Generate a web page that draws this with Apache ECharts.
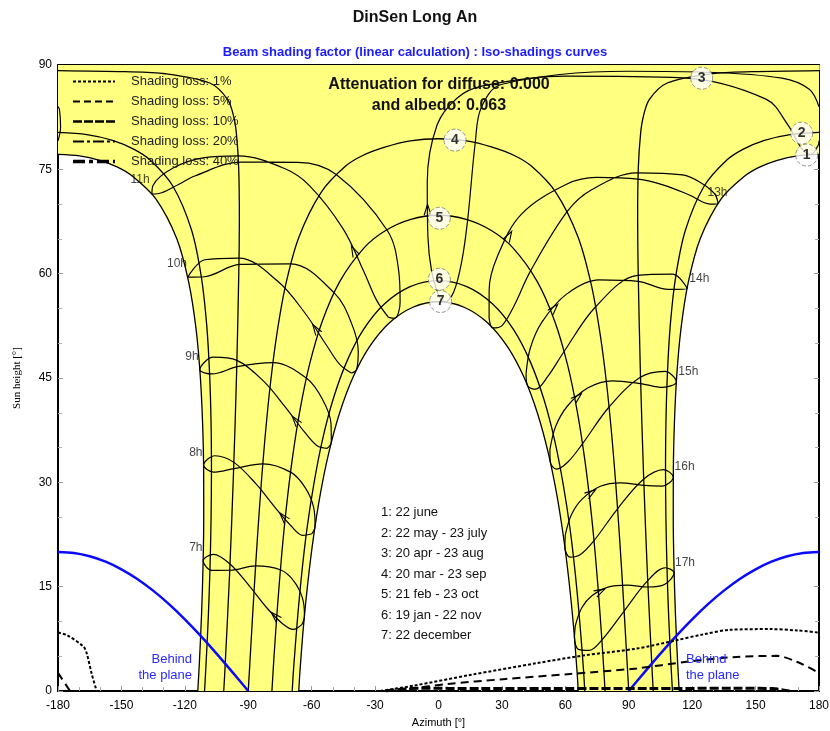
<!DOCTYPE html>
<html>
<head>
<meta charset="utf-8">
<title>DinSen Long An</title>
<script src="https://cdn.jsdelivr.net/npm/echarts@6.0.0/dist/echarts.min.js"></script>
<style>
  body { margin: 0; background: #fff; }
  #chart { width: 830px; height: 731px; }
</style>
</head>
<body>
<div id="chart"></div>
<script>
// [azimuth, sun height] in degrees, azimuth 0 = south, -90 = east
const path1Am = [[-180,77.16],[-169.8,76.95],[-160.25,76.3],[-151.84,75.32],[-144.7,74.0],[-133.8,70.78],[-123.8,65.02],[-118.1,58.67],[-114.7,52.06],[-112.7,45.31],[-111.6,38.48],[-111.1,31.61],[-111.06,24.73],[-111.4,17.85],[-112.1,11.0],[-113.1,4.2],[-113.87,0]];
const path1Pm = [[180,77.16],[169.8,76.95],[160.25,76.3],[151.84,75.32],[144.7,74.0],[133.8,70.78],[123.8,65.02],[118.1,58.67],[114.7,52.06],[112.7,45.31],[111.6,38.48],[111.1,31.61],[111.06,24.73],[111.4,17.85],[112.1,11.0],[113.1,4.2],[113.87,0]];
const path2Am = [[-180,80.3],[-166.36,79.99],[-154.2,79.17],[-144.23,77.91],[-136.4,76.34],[-125.7,72.6],[-116.83,66.27],[-112.2,59.55],[-109.67,52.67],[-108.3,45.7],[-107.6,38.69],[-107.4,31.66],[-107.6,24.62],[-108.1,17.6],[-108.9,10.61],[-110.0,3.66],[-110.67,0]];
const path2Pm = [[180,80.3],[166.36,79.99],[154.2,79.17],[144.23,77.91],[136.4,76.34],[125.7,72.6],[116.83,66.27],[112.2,59.55],[109.67,52.67],[108.3,45.7],[107.6,38.69],[107.4,31.66],[107.6,24.62],[108.1,17.6],[108.9,10.61],[110.0,3.66],[110.67,0]];
const path3Am = [[-180,89.2],[-148.45,89.04],[-129.2,88.74],[-108.2,87.41],[-99.7,85.03],[-96.9,82.6],[-95.6,80.14],[-94.53,75.27],[-94.2,67.9],[-94.45,60.56],[-95.5,45.86],[-97.0,31.21],[-98.86,16.6],[-101.2,2.09],[-101.6,0]];
const path3Pm = [[180,89.2],[148.45,89.04],[129.2,88.74],[108.2,87.41],[99.7,85.03],[96.9,82.6],[95.6,80.14],[94.53,75.27],[94.2,67.9],[94.45,60.56],[95.5,45.86],[97.0,31.21],[98.86,16.6],[101.2,2.09],[101.6,0]];
const path4 = [[-90,0],[-88.6,7.37],[-87.18,14.74],[-85.64,22.1],[-83.94,29.44],[-81.96,36.76],[-79.57,44.03],[-76.5,51.24],[-72.33,58.35],[-66.05,65.25],[-55.5,71.7],[-43.8,75.5],[-35.6,77.03],[-25.4,78.2],[-13.35,79.1],[0,79.4],[13.35,79.1],[25.4,78.2],[35.6,77.03],[43.8,75.5],[55.5,71.7],[66.05,65.25],[72.33,58.35],[76.5,51.24],[79.57,44.03],[81.96,36.76],[83.94,29.44],[85.64,22.1],[87.18,14.74],[88.6,7.37],[90,0]];
const path5 = [[-78.8,0],[-77.76,5.21],[-76.1,12.39],[-74.2,19.52],[-71.9,26.57],[-69.09,33.52],[-65.57,40.32],[-61.03,46.92],[-54.98,53.17],[-46.66,58.9],[-35.1,63.74],[-25.0,66.2],[-13.1,67.8],[0,68.4],[13.1,67.8],[25.0,66.2],[35.1,63.74],[46.66,58.9],[54.98,53.17],[61.03,46.92],[65.57,40.32],[69.09,33.52],[71.9,26.57],[74.2,19.52],[76.1,12.39],[77.76,5.21],[78.8,0]];
const path6 = [[-69.2,0],[-68.55,3.22],[-66.8,10.04],[-64.74,16.77],[-62.2,23.37],[-58.96,29.79],[-55.0,35.97],[-49.96,41.83],[-43.6,47.21],[-35.6,51.91],[-25.5,55.67],[-13.4,58.14],[0,59.0],[13.4,58.14],[25.5,55.67],[35.6,51.91],[43.6,47.21],[49.96,41.83],[55.0,35.97],[58.96,29.79],[62.2,23.37],[64.74,16.77],[66.8,10.04],[68.55,3.22],[69.2,0]];
const path7 = [[-66.1,0],[-65.6,2.55],[-63.9,9.22],[-61.74,15.78],[-59.1,22.19],[-55.85,28.41],[-51.8,34.37],[-46.78,39.96],[-40.5,45.06],[-32.7,49.46],[-23.2,52.94],[-12.1,55.17],[0,55.96],[12.1,55.17],[23.2,52.94],[32.7,49.46],[40.5,45.06],[46.78,39.96],[51.8,34.37],[55.85,28.41],[59.1,22.19],[61.74,15.78],[63.9,9.22],[65.6,2.55],[66.1,0]];

// hour lines (legal time) through the year, starting early january
const h7 = [[-64.67,9.54],[-68.63,8.85],[-73.75,9.67],[-81.25,11.97],[-89.23,15.01],[-98.63,18.26],[-106.45,19.65],[-111.34,18.72],[-107.3,17.34],[-98.54,17.36],[-86.52,17.98],[-74.6,17.39],[-68.44,15.81],[-64.35,13.36],[-63.4,10.8],[-64.67,9.54]];
const h8 = [[-59.9,22.61],[-64.2,22.38],[-69.57,23.68],[-77.53,26.46],[-86.21,29.74],[-96.8,32.87],[-105.74,33.82],[-111.14,32.48],[-106.48,31.46],[-96.67,31.97],[-83.11,32.66],[-69.76,31.43],[-63.14,29.27],[-59.04,26.37],[-58.38,23.7],[-59.9,22.61]];
const h9 = [[-52.6,34.89],[-57.45,35.27],[-63.32,37.21],[-72.19,40.7],[-82.31,44.41],[-95.36,47.53],[-106.53,47.99],[-112.92,46.17],[-107.11,45.58],[-95.14,46.63],[-78.33,47.21],[-62.24,44.93],[-54.9,41.94],[-50.86,38.46],[-50.7,35.75],[-52.6,34.89]];
const h10 = [[-41.24,45.72],[-46.72,46.95],[-53.13,49.78],[-63.27,54.38],[-76.01,58.9],[-94.37,62.23],[-110.48,62.0],[-118.65,59.49],[-110.6,59.56],[-93.99,61.33],[-69.9,61.42],[-49.12,57.17],[-41.32,53.0],[-37.96,48.85],[-38.77,46.19],[-41.24,45.72]];
const h11 = [[-23.65,53.72],[-29.18,56.12],[-35.13,60.16],[-45.17,66.47],[-61.17,72.7],[-73.07,75.15],[-94.75,76.93],[-110.64,76.69],[-125.54,75.2],[-135.05,72.69],[-135.57,71.44],[-130.97,71.63],[-123.04,72.82],[-115.27,74.05],[-93.78,76.03],[-66.52,76.0],[-48.38,74.25],[-24.14,66.17],[-18.89,60.54],[-18.16,55.89],[-20.67,53.59],[-23.65,53.72]];
const h12a = [[0.17,56.8],[-3.25,60.34],[-5.02,65.4],[-5.32,73.13],[-0.67,81.37],[9.0,85.3],[20.9,87.0],[59.9,88.4],[115.7,88.15],[154.9,85.1],[165.27,81.4],[171.8,78.0],[176.08,77.13],[179.54,78.4],[180,79.1]];
const h12b = [[-180,79.1],[-178.78,81.1],[-179.3,83.6],[-180,84.0]];
const h12c = [[180,84.0],[175.4,86.5],[162.5,88.1],[127.3,88.96],[90,89.1],[29.65,87.2],[20.15,83.83],[17.4,78.9],[13.74,67.59],[10.89,61.58],[7.15,57.33],[2.95,55.9],[0.17,56.8]];
const h13 = [[23.94,53.64],[23.96,57.63],[27.75,62.39],[39.14,68.52],[60.83,72.88],[74.77,73.83],[94.38,73.59],[106.54,72.74],[118.4,71.35],[128.55,70.0],[132.21,70.1],[130.63,71.49],[123.68,73.15],[115.48,74.19],[93.7,74.49],[72.44,72.06],[60.91,68.94],[43.37,60.3],[36.06,55.58],[30.05,52.54],[25.63,52.2],[23.94,53.64]];
const h14 = [[41.42,45.59],[43.45,49.32],[49.0,53.07],[60.59,57.06],[75.9,59.1],[94.54,58.88],[108.71,57.74],[117.56,57.84],[110.76,59.93],[94.08,59.76],[74.35,55.24],[59.17,48.7],[51.78,45.26],[45.82,43.39],[42.14,43.88],[41.42,45.59]];
const h15 = [[52.72,34.74],[55.45,38.05],[60.92,40.94],[70.73,43.59],[82.25,44.6],[95.65,44.2],[106.07,43.65],[112.54,44.44],[107.15,45.96],[95.28,45.07],[80.69,40.83],[67.93,35.47],[61.21,32.92],[55.83,31.9],[52.86,32.96],[52.72,34.74]];
const h16 = [[59.98,22.43],[62.92,25.37],[68.05,27.62],[76.6,29.44],[86.17,29.93],[97.19,29.55],[105.83,29.46],[111.07,30.74],[106.47,31.83],[96.85,30.41],[84.71,26.2],[73.36,21.54],[67.17,19.63],[62.26,19.25],[59.79,20.67],[59.98,22.43]];
const h17 = [[64.71,9.36],[67.78,11.96],[72.7,13.72],[80.57,14.98],[89.19,15.21],[99.1,14.95],[106.88,15.31],[111.47,16.99],[107.26,17.72],[98.77,15.8],[87.82,11.5],[77.11,7.28],[71.13,5.84],[66.46,5.94],[64.32,7.63],[64.71,9.36]];

// iso-shading curves
const iso1Main = [[-27.6,0],[-11.9,0.76],[14.9,2.3],[46.4,4.0],[68.5,5.1],[93.8,6.1],[111.1,7.2],[125.3,8.15],[137.9,8.8],[156.8,8.9],[170,8.7],[180,8.4]];
const iso1Wrap = [[-180,8.4],[-175.9,8.05],[-168,6.4],[-166.4,5.4],[-164.1,2.5],[-161.7,0]];
const iso5Main = [[-20,0],[-13.5,0.3],[3.9,1.0],[30.7,1.7],[62.2,2.45],[93.8,3.25],[117.4,4.2],[141.1,4.9],[160,5.05],[169.5,4.2],[180,2.6]];
const iso5Wrap = [[-180,2.6],[-174.3,0]];
const iso10 = [[-25,0],[-10,0.4],[20,0.35],[60,0.35],[100,0.35],[140,0.4],[158,0.35],[166,0]];

// plane horizon ("behind the plane")
const planeLeft = [[-180,20],[-172.5,19.84],[-165,19.37],[-157.5,18.59],[-150,17.5],[-142.5,16.11],[-135,14.43],[-127.5,12.49],[-120,10.31],[-112.5,7.93],[-105,5.38],[-97.5,2.72],[-90,0]];
const planeRight = [[180,20],[172.5,19.84],[165,19.37],[157.5,18.59],[150,17.5],[142.5,16.11],[135,14.43],[127.5,12.49],[120,10.31],[112.5,7.93],[105,5.38],[97.5,2.72],[90,0]];

const dateTagNames = ['1', '2', '3', '4', '5', '6', '7'];
const dateTagPos = [[174.2,77.06],[171.8,80.2],[124.5,88.1],[7.8,79.2],[0.4,67.96],[0.4,59.2],[1.0,56.0]];
const hourNames = ['7h', '8h', '9h', '10h', '11h', '13h', '14h', '15h', '16h', '17h'];
const hourTagPos = [[-114.8,20.6],[-114.8,34.3],[-116.6,48.1],[-123.7,61.4],[-141.2,73.5],[132.0,71.6],[123.4,59.3],[118.2,45.9],[116.4,32.2],[116.6,18.4]];
const dateLegend = ['1: 22 june', '2: 22 may - 23 july', '3: 20 apr - 23 aug', '4: 20 mar - 23 sep', '5: 21 feb - 23 oct', '6: 19 jan - 22 nov', '7: 22 december'];
const lossNames = ['Shading loss: 1%', 'Shading loss: 5%', 'Shading loss: 10%', 'Shading loss: 20%', 'Shading loss: 40%'];

const FONT = '"Liberation Sans", Arial, sans-serif';

// yellow zone between june and december paths
const sunZone = [[-180, 90], ...path1Am, ...path7, ...path1Pm.slice().reverse(), [180, 90]];
const hourLoops = [h7, h8, h9, h10, h11, h12a, h13, h14, h15, h16, h17];

const blackLine = (data, width, smooth) => ({
  type: 'line',
  data,
  symbol: 'none',
  smooth,
  silent: true,
  lineStyle: { color: '#000', width },
  z: 3
});
const isoLine = (data, dash, width) => ({
  type: 'line',
  data,
  symbol: 'none',
  smooth: 0.3,
  silent: true,
  lineStyle: { color: '#000', width, type: dash },
  z: 5
});
const blueLine = (data) => ({
  type: 'line',
  data,
  symbol: 'none',
  smooth: 0.3,
  silent: true,
  lineStyle: { color: '#0a0aff', width: 2.5 },
  z: 4
});

const frameAxis = {
  axisLine: { show: true, onZero: false, lineStyle: { color: '#000', width: 2 } },
  axisTick: { show: true, inside: true, length: 5, lineStyle: { color: '#999' } },
  minorTick: { show: true, splitNumber: 3, length: 4, lineStyle: { color: '#aaa' } },
  splitLine: { show: false }
};

const legendGraphics = [];
const lossDash = [[3, 2], [7, 4], [9, 2], [11, 3, 3, 3], [12, 4, 4, 4]];
const lossWidth = [2, 2, 2.5, 2, 3.5];
lossNames.forEach((name, i) => {
  const y = 81.5 + i * 20;
  legendGraphics.push({
    type: 'line', z: 100,
    shape: { x1: 73, y1: y, x2: 115, y2: y },
    style: { stroke: '#000', lineWidth: lossWidth[i], lineDash: lossDash[i] }
  });
  legendGraphics.push({
    type: 'text', z: 100, x: 131, y,
    style: { text: name, font: '13px ' + FONT, fill: '#222', textVerticalAlign: 'middle' }
  });
});
dateLegend.forEach((t, i) => {
  legendGraphics.push({
    type: 'text', z: 100, x: 381, y: 512.5 + i * 20.5,
    style: { text: t, font: '13px ' + FONT, fill: '#111', textVerticalAlign: 'middle' }
  });
});

const option = {
  animation: false,
  backgroundColor: '#fff',
  title: [
    {
      text: 'DinSen Long An', left: 'center', top: 10, padding: 0,
      textStyle: { fontSize: 16, fontWeight: 'bold', color: '#111', fontFamily: FONT }
    },
    {
      text: 'Beam shading factor (linear calculation) : Iso-shadings curves', left: 'center', top: 46, padding: 0,
      textStyle: { fontSize: 13, fontWeight: 'bold', color: '#1c1cff', fontFamily: FONT }
    }
  ],
  grid: { left: 58, right: 11, top: 65, bottom: 40, outerBoundsMode: 'none', containLabel: false },
  xAxis: [
    {
      type: 'value', min: -180, max: 180, interval: 30, position: 'bottom',
      ...frameAxis,
      axisLabel: { color: '#000', fontSize: 12, fontFamily: FONT, margin: 9 },
      name: 'Azimuth [°]', nameLocation: 'middle', nameGap: 26,
      nameTextStyle: { fontSize: 11, color: '#000', fontFamily: FONT }
    },
    {
      type: 'value', min: -180, max: 180, interval: 30, position: 'top',
      ...frameAxis, axisLabel: { show: false }
    }
  ],
  yAxis: [
    {
      type: 'value', min: 0, max: 90, interval: 15, position: 'left',
      ...frameAxis,
      axisLabel: { color: '#000', fontSize: 12, fontFamily: FONT, margin: 6 },
      name: 'Sun height [°]', nameLocation: 'middle', nameGap: 35, nameRotate: 90,
      nameTextStyle: { fontSize: 11, color: '#000', fontFamily: '"Liberation Serif", serif' }
    },
    {
      type: 'value', min: 0, max: 90, interval: 15, position: 'right',
      ...frameAxis, axisLabel: { show: false }
    }
  ],
  graphic: [
    {
      type: 'text', z: 100, x: 439, y: 85,
      style: { text: 'Attenuation for diffuse: 0.000', font: 'bold 16px ' + FONT, fill: '#111', textAlign: 'center', textVerticalAlign: 'middle' }
    },
    {
      type: 'text', z: 100, x: 439, y: 106,
      style: { text: 'and albedo: 0.063', font: 'bold 16px ' + FONT, fill: '#111', textAlign: 'center', textVerticalAlign: 'middle' }
    },
    {
      type: 'text', z: 100, x: 192, y: 659,
      style: { text: 'Behind', font: '13px ' + FONT, fill: '#2a2aff', textAlign: 'right', textVerticalAlign: 'middle' }
    },
    {
      type: 'text', z: 100, x: 192, y: 675,
      style: { text: 'the plane', font: '13px ' + FONT, fill: '#2a2aff', textAlign: 'right', textVerticalAlign: 'middle' }
    },
    {
      type: 'text', z: 100, x: 686, y: 659,
      style: { text: 'Behind', font: '13px ' + FONT, fill: '#2a2aff', textVerticalAlign: 'middle' }
    },
    {
      type: 'text', z: 100, x: 686, y: 675,
      style: { text: 'the plane', font: '13px ' + FONT, fill: '#2a2aff', textVerticalAlign: 'middle' }
    },
    ...legendGraphics
  ],
  series: [
    {
      type: 'custom',
      silent: true,
      z: 1,
      data: [[0, 0]],
      renderItem: (params, api) => ({
        type: 'polygon',
        shape: { points: sunZone.map((p) => api.coord(p)) },
        style: { fill: '#ffff80', stroke: 'none' }
      })
    },
    ...[path1Am, path1Pm, path2Am, path2Pm, path3Am, path3Pm, path4, path5, path6, path7].map((d) => blackLine(d, 1.3, 0.3)),
    ...[h7, h8, h9, h10, h11, h12a, h12b, h12c, h13, h14, h15, h16, h17].map((d) => blackLine(d, 1.2, 0.35)),
    {
      // direction arrows, between february and march points of each hour line
      type: 'custom',
      silent: true,
      z: 4,
      data: hourLoops.map((l) => [l[2][0], l[2][1], l[3][0], l[3][1]]),
      renderItem: (params, api) => {
        const a = api.coord([api.value(0), api.value(1)]);
        const b = api.coord([api.value(2), api.value(3)]);
        const len = Math.hypot(b[0] - a[0], b[1] - a[1]) || 1;
        const dx = (b[0] - a[0]) / len;
        const dy = (b[1] - a[1]) / len;
        const tip = [(a[0] + b[0]) / 2 + dx * 5, (a[1] + b[1]) / 2 + dy * 5];
        return {
          type: 'polyline',
          shape: {
            points: [
              [tip[0] - dx * 11 - dy * 3.5, tip[1] - dy * 11 + dx * 3.5],
              tip,
              [tip[0] - dx * 11 + dy * 3.5, tip[1] - dy * 11 - dx * 3.5]
            ]
          },
          style: { stroke: '#000', lineWidth: 1.1, fill: null }
        };
      }
    },
    blueLine(planeLeft),
    blueLine(planeRight),
    isoLine(iso1Main, [3, 2], 2),
    isoLine(iso1Wrap, [3, 2], 2),
    isoLine(iso5Main, [8, 5], 2),
    isoLine(iso5Wrap, [8, 5], 2),
    isoLine(iso10, [9, 3], 3),
    {
      type: 'scatter',
      silent: true,
      z: 6,
      symbol: 'circle',
      symbolSize: 22,
      itemStyle: { color: '#fff', borderColor: '#777', borderWidth: 1, borderType: 'dashed' },
      label: {
        show: true, position: 'inside', formatter: '{b}',
        fontSize: 14, fontWeight: 'bold', color: '#000', fontFamily: FONT
      },
      data: dateTagPos.map((p, i) => ({ value: p, name: dateTagNames[i] }))
    },
    {
      type: 'scatter',
      silent: true,
      z: 6,
      symbolSize: 1,
      itemStyle: { color: 'rgba(0,0,0,0)' },
      label: {
        show: true, position: 'inside', formatter: '{b}',
        fontSize: 12, color: '#111', fontFamily: FONT
      },
      data: hourTagPos.map((p, i) => ({ value: p, name: hourNames[i] }))
    }
  ]
};

const chart = echarts.init(document.getElementById('chart'));
chart.setOption(option);
</script>
</body>
</html>
